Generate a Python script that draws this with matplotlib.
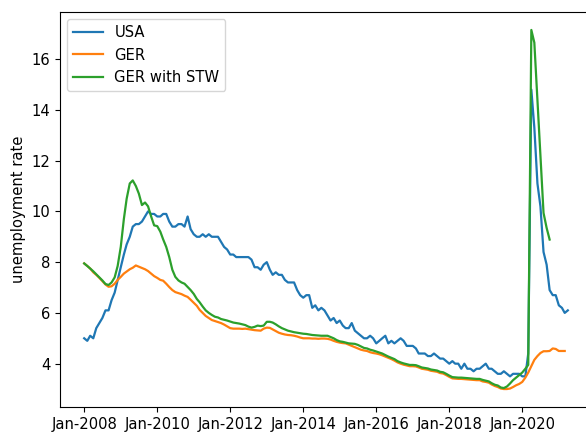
import matplotlib
matplotlib.use("Agg")
import matplotlib.pyplot as plt
import matplotlib.dates as mdates
import pandas as pd

# ── Data (monthly, from Jan-2008) ─────────────────────────────────────────────

usa = [
    5.0, 4.9, 5.1, 5.0, 5.4, 5.6, 5.8, 6.1, 6.1, 6.5, 6.8, 7.3,          # 2008
    7.8, 8.3, 8.7, 9.0, 9.4, 9.5, 9.5, 9.6, 9.8, 10.0, 9.9, 9.9,         # 2009
    9.8, 9.8, 9.9, 9.9, 9.6, 9.4, 9.4, 9.5, 9.5, 9.4, 9.8, 9.3,          # 2010
    9.1, 9.0, 9.0, 9.1, 9.0, 9.1, 9.0, 9.0, 9.0, 8.8, 8.6, 8.5,          # 2011
    8.3, 8.3, 8.2, 8.2, 8.2, 8.2, 8.2, 8.1, 7.8, 7.8, 7.7, 7.9,          # 2012
    8.0, 7.7, 7.5, 7.6, 7.5, 7.5, 7.3, 7.2, 7.2, 7.2, 6.9, 6.7,          # 2013
    6.6, 6.7, 6.7, 6.2, 6.3, 6.1, 6.2, 6.1, 5.9, 5.7, 5.8, 5.6,          # 2014
    5.7, 5.5, 5.4, 5.4, 5.6, 5.3, 5.2, 5.1, 5.0, 5.0, 5.1, 5.0,          # 2015
    4.8, 4.9, 5.0, 5.1, 4.8, 4.9, 4.8, 4.9, 5.0, 4.9, 4.7, 4.7,          # 2016
    4.7, 4.6, 4.4, 4.4, 4.4, 4.3, 4.3, 4.4, 4.3, 4.2, 4.2, 4.1,          # 2017
    4.0, 4.1, 4.0, 4.0, 3.8, 4.0, 3.8, 3.8, 3.7, 3.8, 3.8, 3.9,          # 2018
    4.0, 3.8, 3.8, 3.7, 3.6, 3.6, 3.7, 3.6, 3.5, 3.6, 3.6, 3.6,          # 2019
    3.5, 3.5, 4.4, 14.8, 13.3, 11.1, 10.2, 8.4, 7.9, 6.9, 6.7, 6.7,      # 2020
    6.3, 6.2, 6.0, 6.1,                                                  # 2021
]

ger = [
    7.95, 7.85, 7.75, 7.6, 7.5, 7.38, 7.25, 7.12, 7.03, 7.05, 7.15, 7.3,
    7.42, 7.55, 7.63, 7.72, 7.78, 7.87, 7.82, 7.77, 7.72, 7.65, 7.55, 7.45,
    7.38, 7.3, 7.27, 7.15, 7.02, 6.9, 6.82, 6.78, 6.74, 6.68, 6.63, 6.52,
    6.4, 6.28, 6.12, 6.0, 5.88, 5.8, 5.72, 5.68, 5.64, 5.6, 5.54, 5.47,
    5.4, 5.38, 5.38, 5.38, 5.37, 5.38, 5.36, 5.34, 5.32, 5.31, 5.3, 5.38,
    5.42, 5.41, 5.35, 5.28, 5.22, 5.18, 5.15, 5.13, 5.12, 5.1, 5.07, 5.03,
    5.0, 5.0, 5.0, 4.99, 4.99, 4.98, 4.99, 4.99, 4.98, 4.95, 4.9, 4.86,
    4.83, 4.81, 4.8, 4.75, 4.7, 4.65, 4.6, 4.55, 4.52, 4.5, 4.45, 4.42,
    4.4, 4.37, 4.33, 4.28, 4.23, 4.18, 4.12, 4.05, 4.0, 3.96, 3.93, 3.9,
    3.9, 3.89, 3.85, 3.8, 3.78, 3.76, 3.72, 3.7, 3.68, 3.63, 3.61, 3.55,
    3.48, 3.42, 3.41, 3.4, 3.4, 3.39, 3.38, 3.37, 3.36, 3.35, 3.35, 3.3,
    3.28, 3.25, 3.18, 3.12, 3.08, 3.02, 3.0, 3.0, 3.02, 3.08, 3.15, 3.2,
    3.28, 3.45, 3.65, 3.9, 4.15, 4.3, 4.42, 4.49, 4.49, 4.5, 4.6, 4.58,
    4.5, 4.5, 4.5,
]

ger_stw = [
    7.95, 7.85, 7.75, 7.64, 7.52, 7.4, 7.28, 7.14, 7.1, 7.2, 7.4, 7.85,
    8.6, 9.7, 10.5, 11.1, 11.22, 11.0, 10.7, 10.25, 10.35, 10.2, 9.8, 9.45,
    9.42, 9.2, 8.9, 8.6, 8.2, 7.7, 7.42, 7.28, 7.2, 7.15, 7.02, 6.9,
    6.75, 6.55, 6.42, 6.25, 6.1, 6.0, 5.92, 5.85, 5.82, 5.76, 5.73, 5.7,
    5.66, 5.62, 5.6, 5.58, 5.55, 5.52, 5.46, 5.42, 5.45, 5.5, 5.48, 5.5,
    5.65, 5.65, 5.62, 5.55, 5.47, 5.4, 5.35, 5.3, 5.27, 5.24, 5.22, 5.2,
    5.18, 5.17, 5.15, 5.13, 5.12, 5.11, 5.1, 5.1, 5.1, 5.05, 5.0, 4.93,
    4.88, 4.86, 4.83, 4.8, 4.79, 4.78, 4.74, 4.68, 4.62, 4.6, 4.55, 4.52,
    4.48, 4.44, 4.4, 4.34, 4.28, 4.23, 4.18, 4.1, 4.05, 4.01, 3.98, 3.95,
    3.95, 3.94, 3.9, 3.85, 3.83, 3.81, 3.77, 3.75, 3.73, 3.68, 3.66, 3.6,
    3.53, 3.47, 3.46, 3.45, 3.45, 3.44, 3.43, 3.42, 3.41, 3.4, 3.4, 3.36,
    3.33, 3.3, 3.23, 3.17, 3.14, 3.06, 3.04, 3.1, 3.22, 3.35, 3.45, 3.55,
    3.65, 3.8, 3.95, 17.15, 16.65, 14.4, 12.2, 9.94, 9.35, 8.89,
]

dates_usa = pd.date_range("2008-01-01", periods=len(usa), freq="MS")
dates_ger = pd.date_range("2008-01-01", periods=len(ger), freq="MS")
dates_stw = pd.date_range("2008-01-01", periods=len(ger_stw), freq="MS")

# ── Plot ──────────────────────────────────────────────────────────────────────

plt.rcParams["font.size"] = 10.6

fig = plt.figure(figsize=(5.86, 4.32), dpi=100)
ax = fig.add_axes([60 / 586, 25 / 432, 532 / 586, 395 / 432])

ax.plot(dates_usa, usa, lw=1.6, label="USA")
ax.plot(dates_ger, ger, lw=1.6, label="GER")
ax.plot(dates_stw, ger_stw, lw=1.6, label="GER with STW")

ax.xaxis.set_major_locator(mdates.YearLocator(2))
ax.xaxis.set_major_formatter(mdates.DateFormatter("%b-%Y"))
ax.set_ylabel("unemployment rate")
ax.legend(loc="upper left")

fig.savefig("out.png", dpi=100)
